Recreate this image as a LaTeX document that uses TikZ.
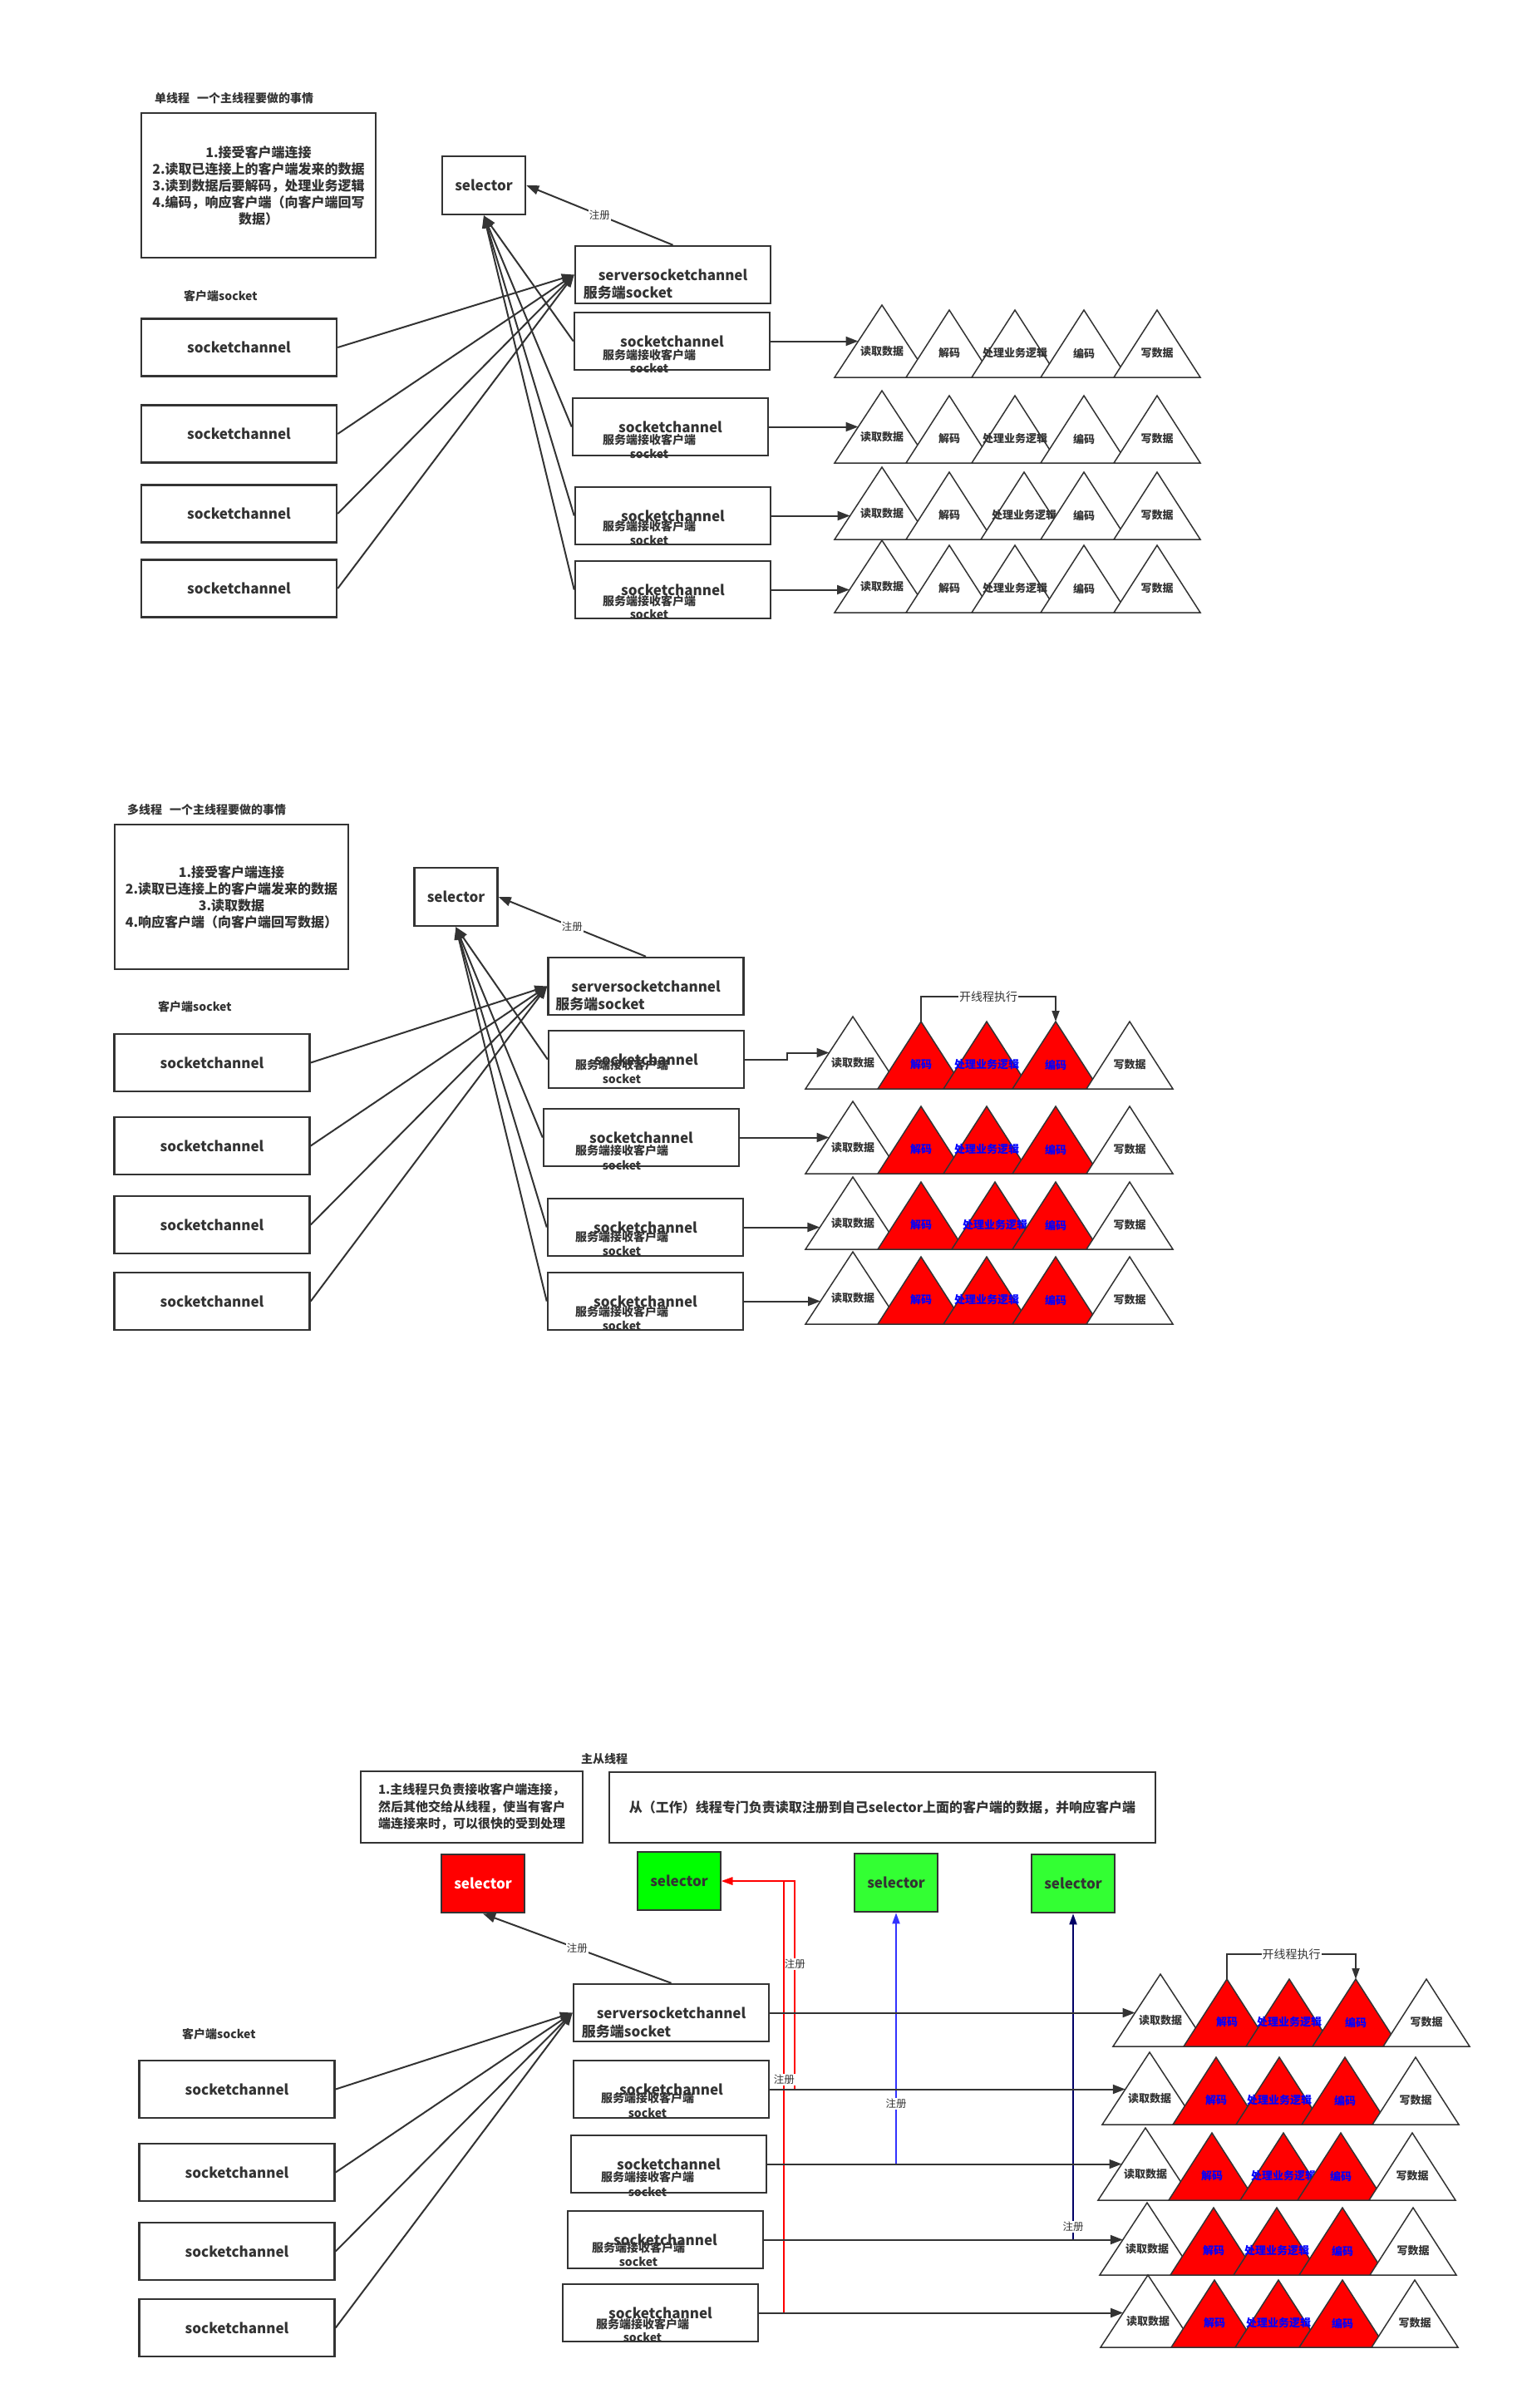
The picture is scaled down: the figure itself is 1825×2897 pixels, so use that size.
\documentclass[tikz,border=0pt]{standalone}
\usepackage{fontspec}
\setmainfont{Noto Sans CJK SC}
\usetikzlibrary{arrows.meta}
\definecolor{ln}{HTML}{333333}
\definecolor{hot}{HTML}{FF0000}
\definecolor{lime}{HTML}{00FF00}
\definecolor{limeb}{HTML}{33FF33}
\definecolor{rblue}{HTML}{3333FF}
\definecolor{rnavy}{HTML}{000066}
\newcommand\fsz[1]{\fontsize{#1}{#1}\selectfont}
\tikzset{
 box/.style={draw=ln, line width=2.5pt, minimum width=235pt, minimum height=69pt, inner sep=0pt, text=ln, font=\bfseries\fsz{17}},
 selbox/.style={box, minimum width=100pt, minimum height=70pt},
 notebox/.style={draw=ln, line width=2.5pt, align=center, inner sep=0pt, text=ln, font=\bfseries\fontsize{16}{20}\selectfont},
 wire/.style={draw=ln, line width=2pt, -{Triangle[length=15pt,width=11pt]}},
 regwire/.style={line width=1.8pt, -{Triangle[length=13pt,width=9pt]}},
 sub/.style={inner sep=0pt, text=ln, font=\bfseries\fsz{14}},
 head/.style={anchor=west, inner sep=0pt, text=ln, font=\bfseries\fsz{14}},
 reg/.style={inner sep=1pt, fill=white, text=ln, font=\fsz{12.5}},
 tri/.style={draw=ln, line width=1.5pt},
 tricold/.style={tri, fill=white}, trihot/.style={tri, fill=hot},
 lblcold/.style={inner sep=0pt, text=ln, font=\bfseries\fsz{13}},
 lblhot/.style={inner sep=0pt, text=blue, font=\bfseries\fsz{13}},
}
% server side socketchannel: name, x, y, shift of the two lower lines
\newcommand\srv[6]{%
 \node[box] (#1) at (#2,#3) {socketchannel};
 \node[sub] (#1-a) at ([shift={(#4,#5)}]#1.center) {服务端接收客户端};
 \node[sub] (#1-b) at ([shift={(#4,#6)}]#1.center) {socket};
}
% row of five steps: name, base y, five apex x, cold/hot, y of the incoming arrow
\newcommand\trirow[9]{%
 \path[tricold] (#3-57,#2) -- (#3,#2-87) -- (#3+57,#2) -- cycle;
 \coordinate (#1-t1) at (#3,#2-87);
 \coordinate (#1-in) at ({#3-57*(#9-#2+87)/87},#9);
 \node[lblcold] (#1-1) at (#3,#2-31) {读取数据};
 \foreach \ax/\txt [count=\i from 2] in {#4/解码,#5/处理业务逻辑,#6/编码}{
  \path[tri#8] (\ax-52,#2) -- (\ax,#2-81) -- (\ax+52,#2) -- cycle;
  \coordinate (#1-t\i) at (\ax,#2-81);
  \node[lbl#8] (#1-\i) at (\ax,#2-29) {\txt};
 }
 \path[tricold] (#7-52,#2) -- (#7,#2-81) -- (#7+52,#2) -- cycle;
 \node[lblcold] (#1-5) at (#7,#2-29) {写数据};
}
\begin{document}
\begin{tikzpicture}[x=1pt,y=-1pt]
\useasboundingbox (0,0) rectangle (1825,2897);
% Einzelner Thread
\node[head] (t1) at (186,118) {单线程\hspace{9pt}一个主线程要做的事情};
\node[notebox, minimum width=282pt, minimum height=174pt] (job1) at (311,223)
 {1.接受客户端连接\\2.读取已连接上的客户端发来的数据\\3.读到数据后要解码，处理业务逻辑\\4.编码，响应客户端（向客户端回写\\数据）};
\node[selbox] (sel1) at (582,223) {selector};
\node[box] (ssc1) at (809.5,330.5) {serversocketchannel};
\node[sub, anchor=west, font=\bfseries\fsz{17}] (ssc1-a) at ([shift={(11,21.5)}]ssc1.west) {服务端socket};
\node[head] (cli1) at (221,356) {客户端socket};
\foreach \n/\y in {a/418,b/522,c/618,d/708} \node[box] (c1\n) at (287.5,\y) {socketchannel};
\srv{s1a}{808.5}{410.5}{-27.5}{16.5}{32.5}
\srv{s1b}{806.5}{513.5}{-25.5}{15.5}{32.5}
\srv{s1c}{809.5}{620.5}{-28.5}{12.5}{29.5}
\srv{s1d}{809.5}{709.5}{-28.5}{13.5}{29.5}
\trirow{r1a}{454}{1061}{1142}{1221}{1304}{1392}{cold}{410.5}
\trirow{r1b}{557}{1061}{1142}{1221}{1304}{1392}{cold}{513.5}
\trirow{r1c}{649}{1061}{1142}{1232}{1304}{1392}{cold}{620.5}
\trirow{r1d}{737}{1061}{1142}{1221}{1304}{1392}{cold}{709.5}
\draw[wire] (ssc1.north) -- node[reg] (reg1) {注册} (sel1.east);
\foreach \n in {a,b,c,d}{
 \draw[wire] (c1\n.east) -- (ssc1.west);
 \draw[wire] (s1\n.west) -- (sel1.south);
 \draw[wire] (s1\n.east) -- (r1\n-in);
}
% Mehrere Threads
\node[head] (t2) at (153,974) {多线程\hspace{9pt}一个主线程要做的事情};
\node[notebox, minimum width=281pt, minimum height=174pt] (job2) at (278.5,1079)
 {1.接受客户端连接\\2.读取已连接上的客户端发来的数据\\3.读取数据\\4.响应客户端（向客户端回写数据）};
\node[selbox] (sel2) at (548.5,1079) {selector};
\node[box] (ssc2) at (777,1186.5) {serversocketchannel};
\node[sub, anchor=west, font=\bfseries\fsz{17}] (ssc2-a) at ([shift={(10,21.5)}]ssc2.west) {服务端socket};
\node[head] (cli2) at (190,1211) {客户端socket};
\foreach \n/\y in {a/1278.5,b/1378.5,c/1473.5,d/1565.5} \node[box] (c2\n) at (255,\y) {socketchannel};
\srv{s2a}{777.5}{1274.5}{-29.5}{6.5}{23.5}
\srv{s2b}{771.5}{1368.5}{-23.5}{15.5}{33.5}
\srv{s2c}{776.5}{1476.5}{-28.5}{11.5}{28.5}
\srv{s2d}{776.5}{1565.5}{-28.5}{12.5}{29.5}
\trirow{r2a}{1310}{1026}{1108}{1187}{1270}{1359}{hot}{1266.5}
\trirow{r2b}{1412}{1026}{1108}{1187}{1270}{1359}{hot}{1368.5}
\trirow{r2c}{1503}{1026}{1108}{1197}{1270}{1359}{hot}{1476.5}
\trirow{r2d}{1593}{1026}{1108}{1187}{1270}{1359}{hot}{1565.5}
\draw[wire, regwire] (r2a-t2) -- ++(0,-30) -| node[pos=0.25, reg, font=\fsz{14}] (fork2) {开线程执行} (r2a-t4);
\draw[wire] (ssc2.north) -- node[reg] (reg2) {注册} (sel2.east);
\foreach \n in {a,b,c,d}{
 \draw[wire] (c2\n.east) -- (ssc2.west);
 \draw[wire] (s2\n.west) -- (sel2.south);
}
\draw[wire] (s2a.east) -- ++(51,0) |- (r2a-in);
\foreach \n in {b,c,d} \draw[wire] (s2\n.east) -- (r2\n-in);
% Master/Worker
\node[head, anchor=center] (t3) at (727,2116) {主从线程};
\node[notebox, align=left, font=\bfseries\fontsize{15}{20.5}\selectfont, minimum width=267pt, minimum height=86pt] (job3) at (567.5,2174)
 {1.主线程只负责接收客户端连接，\\然后其他交给从线程，使当有客户\\端连接来时，可以很快的受到处理};
\node[notebox, minimum width=657pt, minimum height=85pt] (job4) at (1061.5,2174.5)
 {从（工作）线程专门负责读取注册到自己selector上面的客户端的数据，并响应客户端};
\node[selbox, fill=hot, text=white] (boss) at (581,2266) {selector};
\node[selbox, fill=lime] (wk1) at (817,2263) {selector};
\node[selbox, fill=limeb] (wk2) at (1078,2265) {selector};
\node[selbox, fill=limeb] (wk3) at (1291,2266) {selector};
\node[box] (ssc3) at (807.5,2421.5) {serversocketchannel};
\node[sub, anchor=west, font=\bfseries\fsz{17}] (ssc3-a) at ([shift={(11,22.5)}]ssc3.west) {服务端socket};
\node[head] (cli3) at (219,2447) {客户端socket};
\foreach \n/\y in {a/2513.5,b/2613.5,c/2708.5,d/2800.5} \node[box] (c3\n) at (285,\y) {socketchannel};
\srv{s3a}{807.5}{2513.5}{-28.5}{10.5}{28.5}
\srv{s3b}{804.5}{2603.5}{-25.5}{15.5}{33.5}
\srv{s3c}{800.5}{2694.5}{-32.5}{9.5}{26.5}
\srv{s3d}{794.5}{2782.5}{-21.5}{13.5}{29.5}
\trirow{r3o}{2462}{1396}{1476}{1551}{1631}{1716}{hot}{2421.5}
\trirow{r3a}{2556}{1383}{1463}{1539}{1618}{1703}{hot}{2513.5}
\trirow{r3b}{2647}{1378}{1458}{1544}{1613}{1699}{hot}{2603.5}
\trirow{r3c}{2737}{1380}{1460}{1536}{1615}{1700}{hot}{2694.5}
\trirow{r3d}{2824}{1381}{1461}{1538}{1615}{1702}{hot}{2782.5}
\draw[wire, regwire] (r3o-t2) -- ++(0,-30) -| node[pos=0.25, reg, font=\fsz{14}] (fork3) {开线程执行} (r3o-t4);
% Registrierung bei den Worker-Selectoren
\draw[regwire, draw=hot] (s3a.east) -- ++(30,0) |- node[reg, pos=0.3] (reg3a) {注册} (wk1.east);
\draw[regwire, draw=hot] (s3d.east) -- ++(30,0) |- node[reg, pos=0.27] (reg3d) {注册} (wk1.east);
\draw[regwire, draw=rblue] (s3b.east) -| node[reg, pos=0.62] (reg3b) {注册} (wk2.south);
\draw[regwire, draw=rnavy] (s3c.east) -| node[reg, pos=0.52] (reg3c) {注册} (wk3.south);
\draw[wire] (ssc3.north) -- node[reg] (reg3) {注册} (boss.south);
\foreach \n in {a,b,c,d} \draw[wire] (c3\n.east) -- (ssc3.west);
\draw[wire] (ssc3.east) -- (r3o-in);
\foreach \n in {a,b,c,d} \draw[wire] (s3\n.east) -- (r3\n-in);
\end{tikzpicture}
\end{document}
